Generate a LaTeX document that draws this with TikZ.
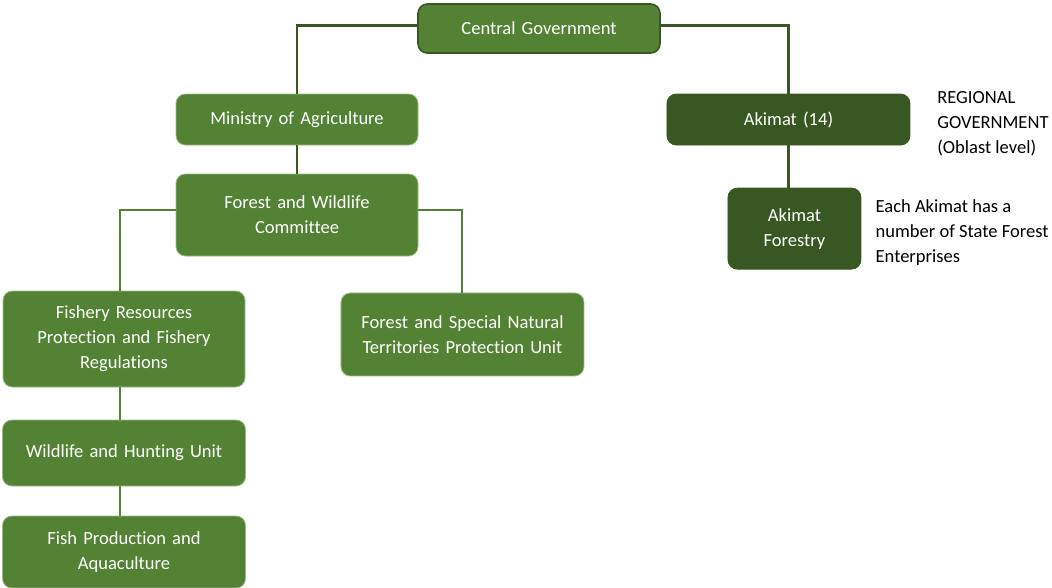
\documentclass[tikz,border=0pt]{standalone}
\usepackage{fontspec}
\setmainfont{Carlito}[Ligatures=NoCommon]
\usetikzlibrary{shapes,arrows,positioning}

\definecolor{leafgreen}{HTML}{548235}
\definecolor{darkleaf}{HTML}{385723}
\definecolor{edgeleaf}{HTML}{9CBB86}

\begin{document}
\begin{tikzpicture}[auto]

% Define styles
\tikzstyle{box} = [rectangle, rounded corners=7pt, fill=leafgreen, draw=edgeleaf, line width=0.6pt, text=white, text width=172pt, align=center, font=\fontsize{13.9}{18.75}\selectfont]
\tikzstyle{darkbox} = [box, fill=darkleaf, draw=darkleaf]
\tikzstyle{note} = [inner sep=0pt, align=left, font=\fontsize{13.9}{18.75}\selectfont]
\tikzstyle{trunk} = [draw=darkleaf, line width=2.2pt]
\tikzstyle{branch} = [draw=leafgreen, line width=1.5pt]

\useasboundingbox (0,0) rectangle (789pt,-441pt);

% Nodes
\node [box, draw=darkleaf, line width=1.2pt, minimum width=181.5pt, minimum height=36.75pt] (central) at (404.25pt,-21.4pt) {Central Government};
\node [box, minimum width=181.5pt, minimum height=38.25pt, below of=central, node distance=68.25pt, xshift=-181.5pt] (ministry) {Ministry of Agriculture};
\node [box, minimum width=181.5pt, minimum height=61.5pt, below of=ministry, node distance=71.6pt] (committee) {Forest and Wildlife\\Committee};
\node [box, minimum width=181.5pt, minimum height=72pt, below of=committee, node distance=93pt, xshift=-129.75pt] (fishery) {Fishery Resources\\Protection and Fishery\\Regulations};
\node [box, minimum width=182.25pt, minimum height=62.25pt, below of=committee, node distance=89.6pt, xshift=124.1pt] (territories) {Forest and Special Natural\\Territories Protection Unit};
\node [box, minimum width=182.25pt, minimum height=49.5pt, below of=fishery, node distance=85.5pt] (hunting) {Wildlife and Hunting Unit};
\node [box, minimum width=182.25pt, minimum height=54pt, below of=hunting, node distance=74.25pt] (aquaculture) {Fish Production and\\Aquaculture};

% Regional side
\node [darkbox, minimum width=182.25pt, minimum height=38.25pt, below of=central, node distance=68.25pt, xshift=187.1pt] (akimat) {Akimat (14)};
\node [darkbox, text width=90pt, minimum width=99.75pt, minimum height=60.75pt, below of=akimat, node distance=81.8pt, xshift=4.5pt] (akforestry) {Akimat\\Forestry};

% Notes
\node [note, right=20pt of akimat, yshift=-3.4pt] (regional) {REGIONAL\\GOVERNMENT\\(Oblast level)};
\node [note, right=10.5pt of akforestry, yshift=-2.6pt] (enterprises) {Each Akimat has a\\number of State Forest\\Enterprises};

% Connectors
\draw [trunk] ([yshift=2.6pt]central.west) -| (ministry.north);
\draw [trunk] ([yshift=2.6pt]central.east) -| (akimat.north);
\draw [trunk] (ministry) -- (committee);
\draw [trunk] (akimat.south) -- (akimat.south |- akforestry.north);

\draw [branch] ([yshift=3.75pt]committee.west) -| ([xshift=-3pt]fishery.north);
\draw [branch] ([yshift=3.75pt]committee.east) -| (territories.north);
\draw [branch] ([xshift=-3pt]fishery.south) -- ([xshift=-3pt]fishery.south |- hunting.north);
\draw [branch] ([xshift=-3pt]hunting.south) -- ([xshift=-3pt]hunting.south |- aquaculture.north);

\end{tikzpicture}
\end{document}
